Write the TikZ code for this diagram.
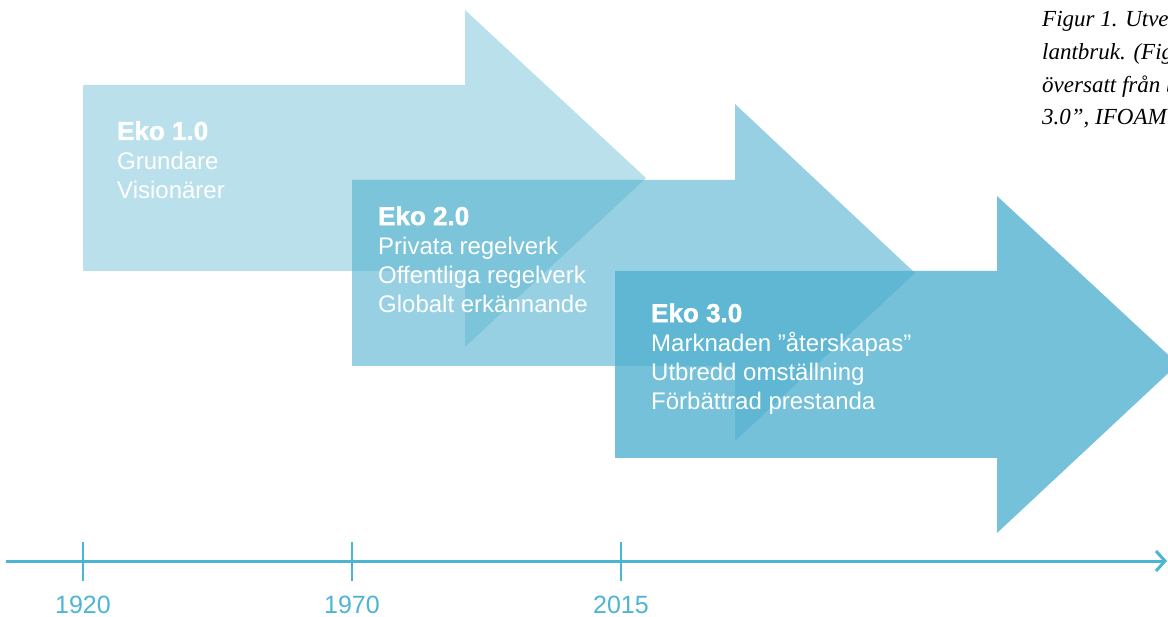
\documentclass[tikz,border=0pt]{standalone}
\usepackage{fontspec}
\setmainfont{Liberation Sans}
\newfontfamily\figfont{Liberation Serif}
\newfontfamily\ekoheavy{Liberation Sans Bold}[FakeBold=1.5]
\usetikzlibrary{arrows.meta, positioning}

\definecolor{ekoblue}{RGB}{82,177,207}
\definecolor{lineblue}{RGB}{77,181,212}

\tikzset{
  ekoarrow/.style={fill=ekoblue, draw=none},
  % base anchor of a multi-line node = baseline of its last line
  ekotext/.style={text=white, align=left, anchor=base west, inner sep=0pt,
    font=\fontsize{24}{29.3}\selectfont},
  timeline/.style={draw=lineblue, line width=3pt},
  tickmark/.style={draw=lineblue, line width=2pt},
  yearlabel/.style={text=lineblue, inner sep=0pt, font=\fontsize{25}{30}\selectfont},
  figcaption/.style={align=left, anchor=base west, inner sep=0pt,
    font=\figfont\itshape\fontsize{23}{32.7}\selectfont},
}

\newcommand{\ekohead}[1]{{\ekoheavy\fontsize{26}{29.3}\selectfont #1}}

\begin{document}
\begin{tikzpicture}[x=1pt, y=-1pt]
    \useasboundingbox (0,0) rectangle (1168,617);
    \clip (0,0) rectangle (1168,617);

    % arrows
    \fill[ekoarrow, fill opacity=0.4] (83,85) -- (465,85) -- (465,10) -- (646,178)
        -- (465,347) -- (465,271) -- (83,271) -- cycle;
    \fill[ekoarrow, fill opacity=0.6] (352,180) -- (735,180) -- (735,104) -- (915,273)
        -- (735,441) -- (735,366) -- (352,366) -- cycle;
    \fill[ekoarrow, fill opacity=0.8] (615,271) -- (997,271) -- (997,196) -- (1178,364)
        -- (997,533) -- (997,458) -- (615,458) -- cycle;

    \node[ekotext] (eko1) at (117,198.6) {\ekohead{Eko 1.0}\\Grundare\\Visionärer};
    \node[ekotext] (eko2) at (378,313) {\ekohead{Eko 2.0}\\Privata regelverk\\Offentliga regelverk\\Globalt erkännande};
    \node[ekotext] (eko3) at (651,410) {\ekohead{Eko 3.0}\\Marknaden ”återskapas”\\Utbredd omställning\\Förbättrad prestanda};

    \node[figcaption] (fig) at (1042,125) {Figur 1. Utve\\lantbruk. (Fig\\översatt från b\\3.0”, IFOAM};

    % timeline
    \coordinate (tstart) at (6,561);
    \coordinate (tend) at (1167,561);
    \draw[timeline, -{Straight Barb[length=9pt, width=20pt]}] (tstart) -- (tend);
    \foreach \x/\yr/\nm in {83/1920/y1, 352/1970/y2, 621/2015/y3} {
        \draw[tickmark] (\x,542) -- (\x,581);
        \node[yearlabel] (\nm) at (\x,605) {\yr};
    }
\end{tikzpicture}
\end{document}
